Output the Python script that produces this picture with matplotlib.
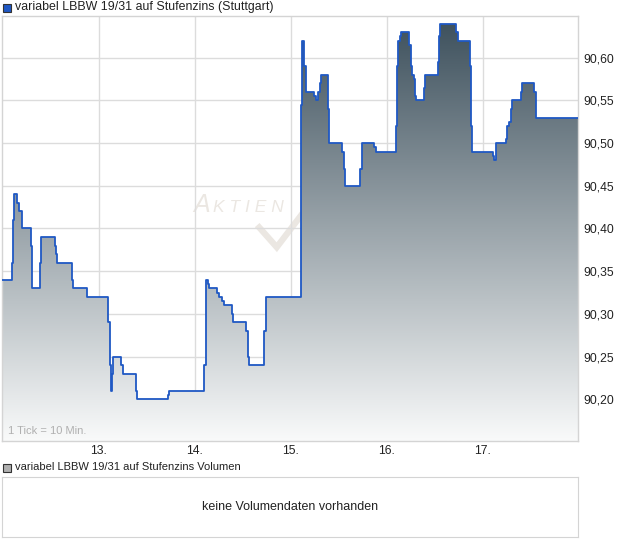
import numpy as np
import matplotlib
matplotlib.use('Agg')
import matplotlib.pyplot as plt
from matplotlib.colors import LinearSegmentedColormap
from matplotlib.patches import Rectangle

plt.rcParams['font.family'] = ['Liberation Sans', 'DejaVu Sans']

title = 'variabel LBBW 19/31 auf Stufenzins (Stuttgart)'
vol_title = 'variabel LBBW 19/31 auf Stufenzins Volumen'
vol_msg = 'keine Volumendaten vorhanden'

# time in days (day of month, fractional), price after each step
times = [11.990, 12.097, 12.107, 12.118, 12.146, 12.167, 12.201, 12.289, 12.299, 12.389,
         12.399, 12.539, 12.555, 12.566, 12.722, 12.732, 12.878, 13.097, 13.111, 13.122,
         13.139, 13.149, 13.229, 13.253, 13.385, 13.399, 13.722, 13.732, 14.097, 14.111,
         14.118, 14.139, 14.149, 14.232, 14.247, 14.284, 14.302, 14.389, 14.399, 14.534,
         14.552, 14.559, 14.719, 14.736, 15.104, 15.118, 15.139, 15.153, 15.243, 15.257,
         15.284, 15.299, 15.309, 15.389, 15.399, 15.534, 15.549, 15.563, 15.722, 15.736,
         15.868, 15.885, 16.094, 16.104, 16.118, 16.139, 16.146, 16.232, 16.247, 16.257,
         16.278, 16.295, 16.305, 16.389, 16.399, 16.534, 16.545, 16.555, 16.722, 16.736,
         16.865, 16.875, 16.889, 17.101, 17.115, 17.135, 17.236, 17.250, 17.274, 17.289,
         17.305, 17.393, 17.403, 17.534, 17.552, 17.990]
prices = [90.34, 90.36, 90.41, 90.44, 90.43, 90.42, 90.40, 90.38, 90.33, 90.36,
          90.39, 90.38, 90.37, 90.36, 90.34, 90.33, 90.32, 90.29, 90.24, 90.21,
          90.23, 90.25, 90.24, 90.23, 90.21, 90.20, 90.205, 90.21, 90.24, 90.31,
          90.34, 90.335, 90.33, 90.325, 90.32, 90.315, 90.31, 90.30, 90.29, 90.28,
          90.25, 90.24, 90.28, 90.32, 90.545, 90.62, 90.59, 90.56, 90.555, 90.55,
          90.56, 90.57, 90.58, 90.54, 90.50, 90.49, 90.47, 90.45, 90.47, 90.50,
          90.495, 90.49, 90.52, 90.59, 90.62, 90.625, 90.63, 90.615, 90.59, 90.58,
          90.575, 90.555, 90.55, 90.565, 90.58, 90.595, 90.625, 90.64, 90.63, 90.62,
          90.59, 90.52, 90.49, 90.485, 90.48, 90.50, 90.505, 90.52, 90.525, 90.54,
          90.55, 90.56, 90.57, 90.56, 90.53, 90.53]

day_ticks = [13, 14, 15, 16, 17]
day_labels = ['13.', '14.', '15.', '16.', '17.']
price_ticks = [90.20, 90.25, 90.30, 90.35, 90.40, 90.45, 90.50, 90.55, 90.60]

ymin, ymax = 90.151, 90.649
xmin, xmax = 11.990, 17.990
grid_c = '#dcdcdc'
wm_c = '#ebe7e2'

fig = plt.figure(figsize=(6.2, 5.46), dpi=100)
ax = fig.add_axes([2/620, 105/546, 576/620, 425/546])

# gradient fill under the step line
poly = ax.fill_between(times, prices, ymin, step='post', facecolor='none', edgecolor='none')
cmap = LinearSegmentedColormap.from_list('g', ['#f9fafa', '#3f525e'])
grad = np.linspace(0, 1, 256).reshape(-1, 1)
im = ax.imshow(grad, extent=[xmin, xmax, ymin, max(prices)], origin='lower',
               aspect='auto', cmap=cmap, zorder=1)
im.set_clip_path(poly.get_paths()[0], poly.get_transform())

ax.step(times, prices, where='post', color='#1f58c4', lw=1.3, zorder=3)

ax.set_xlim(xmin, xmax)
ax.set_ylim(ymin, ymax)
ax.set_xticks(day_ticks)
ax.set_xticklabels(day_labels)
ax.set_yticks(price_ticks)
ax.set_yticklabels([f'{v:.2f}'.replace('.', ',') for v in price_ticks])
ax.yaxis.tick_right()
ax.tick_params(length=0, labelsize=8.7, colors='#222222')
ax.tick_params(axis='y', pad=4)
ax.tick_params(axis='x', pad=3)
ax.grid(True, color=grid_c, lw=1, zorder=0)
ax.set_axisbelow(True)
for s in ax.spines.values():
    s.set_color('#d4d4d4')
    s.set_linewidth(1)

ax.text(0.01, 0.012, '1 Tick = 10 Min.', transform=ax.transAxes, fontsize=8,
        color='#b0b0b0', va='bottom', ha='left')

# watermark
ax.text(0.3316, 0.5388, 'A', transform=ax.transAxes, fontsize=18, color=wm_c,
        fontstyle='italic', ha='left', va='baseline', zorder=0.5)
ax.text(0.366, 0.5388, 'K T I E N', transform=ax.transAxes, fontsize=12.5, color=wm_c,
        fontstyle='italic', ha='left', va='baseline', zorder=0.5)
ax.plot([0.443, 0.477, 0.53], [0.508, 0.456, 0.55], transform=ax.transAxes,
        color=wm_c, lw=4.5, zorder=0.5, solid_capstyle='butt', solid_joinstyle='miter')

# titles with legend squares
fig.patches.append(Rectangle((3/620, 1 - 12/546), 8/620, 8/546, transform=fig.transFigure,
                             facecolor='#1f58c4', edgecolor='#333333', lw=0.8))
fig.text(15/620, 1 - 7/546, title, fontsize=8.9, va='center', ha='left', color='#222222')
fig.patches.append(Rectangle((3/620, 1 - 472/546), 8/620, 8/546, transform=fig.transFigure,
                             facecolor='#b0b0b0', edgecolor='#333333', lw=0.8))
fig.text(15/620, 1 - 467/546, vol_title, fontsize=8, va='center', ha='left', color='#222222')

vax = fig.add_axes([2/620, 9/546, 576/620, 60/546])
vax.set_xticks([])
vax.set_yticks([])
for s in vax.spines.values():
    s.set_color('#d4d4d4')
vax.text(0.5, 0.5, vol_msg, transform=vax.transAxes, ha='center', va='center',
         fontsize=9, color='#222222')

fig.savefig('out.png', dpi=100)
